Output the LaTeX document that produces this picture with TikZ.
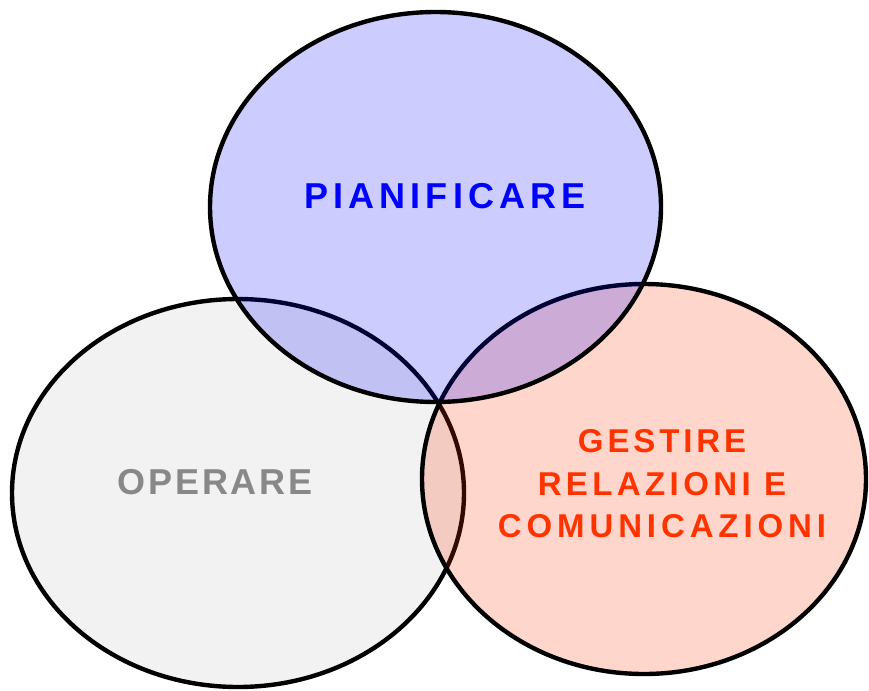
\documentclass[tikz,border=0pt]{standalone}
\usepackage{fontspec}
\setmainfont{Liberation Sans}
\newfontfamily\lsPian[LetterSpace=14]{Liberation Sans}
\newfontfamily\lsOper[LetterSpace=7.5]{Liberation Sans}
\newfontfamily\lsGestA[LetterSpace=11.7]{Liberation Sans}
\newfontfamily\lsGestB[LetterSpace=13.3]{Liberation Sans}
\newfontfamily\lsGestC[LetterSpace=14.8]{Liberation Sans}
\definecolor{grayfill}{HTML}{F2F2F2}
\definecolor{bluefill}{HTML}{0000FF}
\definecolor{redfill}{HTML}{FF3300}
\definecolor{bluetext}{HTML}{0000FF}
\definecolor{graytext}{HTML}{888888}
\definecolor{redtext}{HTML}{FF3300}
\tikzset{
  venn/.style={draw=black, line width=4.4pt},
  lbl/.style={inner sep=0pt, align=center},
}
\begin{document}
\begin{tikzpicture}[x=1pt,y=-1pt]
\useasboundingbox (0,0) rectangle (869,690);
% left (gray)
\path[venn, fill=grayfill] (238,493) ellipse [x radius=226, y radius=194];
% right (red)
\path[venn, fill=redfill, fill opacity=0.2] (644,479) ellipse [x radius=222, y radius=195];
% top (blue)
\path[venn, fill=bluefill, fill opacity=0.2] (435.5,207) ellipse [x radius=225.5, y radius=195];
\node[lbl, text=bluetext, font=\lsPian\bfseries\fontsize{36}{42}\selectfont] (pian) at (445,196) {PIANIFICARE};
\node[lbl, text=graytext, font=\lsOper\bfseries\fontsize{36}{42}\selectfont] (oper) at (215,482.5) {OPERARE};
\node[lbl, text=redtext, font=\bfseries\fontsize{33}{42.5}\selectfont] (gest) at (662,484) {{\lsGestA\bfseries GESTIRE}\\{\lsGestB\bfseries RELAZIONI E}\\{\lsGestC\bfseries COMUNICAZIONI}};
\end{tikzpicture}
\end{document}
